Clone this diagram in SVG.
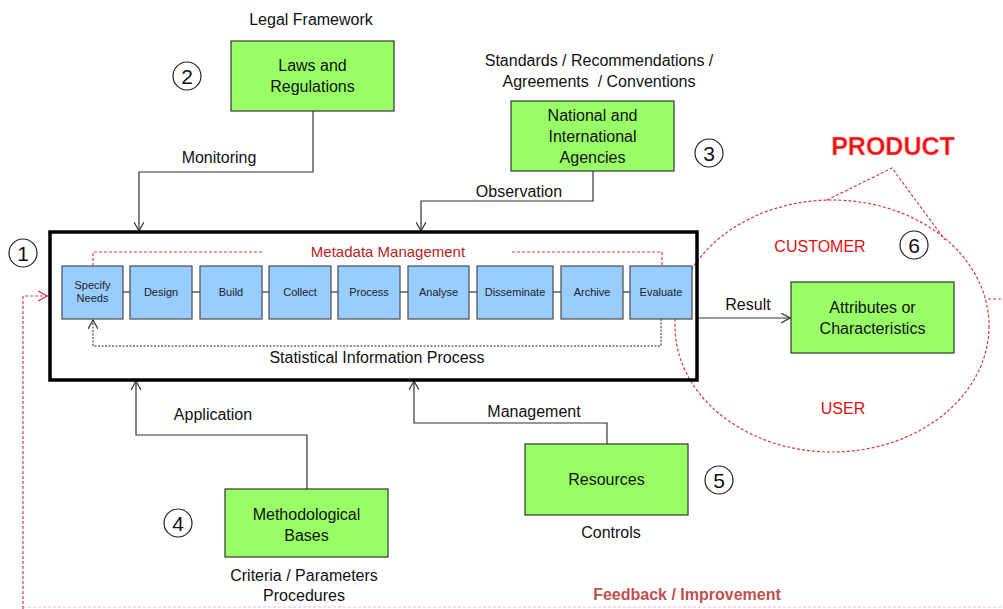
<svg xmlns="http://www.w3.org/2000/svg" width="1003" height="609" viewBox="0 0 1003 609">
<style>
text{font-family:"Liberation Sans",Arial,sans-serif;fill:#111;}
.g{fill:#99ff66;stroke:#333;stroke-width:1.2;}
.b{fill:#99ccff;stroke:#4a4a4a;stroke-width:1.2;}
.t16{font-size:16px;text-anchor:middle;}
.t11{font-size:11px;text-anchor:middle;fill:#222;}
.num{fill:#fff;stroke:#222;stroke-width:1.2;}
.nt{font-size:21px;text-anchor:middle;}
.ln{fill:none;stroke:#333;stroke-width:1.2;}
.red{fill:none;stroke:#d9364a;stroke-width:1.2;stroke-dasharray:3 2;}
.rt{fill:#e01010;font-size:16px;text-anchor:middle;}
</style>
<defs>
<marker id="ah" viewBox="0 0 10 10" refX="9" refY="5" markerWidth="10" markerHeight="10" markerUnits="userSpaceOnUse" orient="auto"><path d="M0,0 L9,5 L0,10" fill="none" stroke="#333" stroke-width="1.2"/></marker>
<marker id="ahr" viewBox="0 0 10 10" refX="9" refY="5" markerWidth="10" markerHeight="10" markerUnits="userSpaceOnUse" orient="auto"><path d="M0,0 L9,5 L0,10" fill="none" stroke="#d9364a" stroke-width="1.2"/></marker>
</defs>
<rect width="1003" height="609" fill="#fff"/>

<g id="connectors">
<polyline class="ln" points="313,111 313,172 139,172 139,231" marker-end="url(#ah)"/>
<polyline class="ln" points="593,171 593,201 421,201 421,231" marker-end="url(#ah)"/>
<polyline class="ln" points="307,489 307,435 136,435 136,381" marker-end="url(#ah)"/>
<polyline class="ln" points="607,444 607,423 414,423 414,381" marker-end="url(#ah)"/>
<line class="ln" x1="698" y1="318" x2="790" y2="318" marker-end="url(#ah)"/>
<polyline class="red" points="23,609 23,296 47,296" marker-end="url(#ahr)"/>
<line class="red" x1="23" y1="607" x2="1003" y2="607" opacity="0.35"/>
<line class="red" x1="988" y1="299" x2="1003" y2="299"/>
</g>

<g id="main-process-fill">
<rect x="50" y="232" width="647" height="148" fill="#fff"/>
</g>

<g id="product-callout">
<ellipse class="red" cx="832" cy="326" rx="157" ry="126"/>
<polyline class="red" points="827,200 892,168 945,240"/>
<text x="893" y="155" font-size="25" font-weight="bold" text-anchor="middle" style="fill:#f01010;stroke:#f6b0b0;stroke-width:0.5;">PRODUCT</text>
<text class="rt" x="820" y="252">CUSTOMER</text>
<text class="rt" x="843" y="414">USER</text>
</g>

<g id="main-process">
<rect x="50" y="232" width="647" height="148" fill="none" stroke="#000" stroke-width="3.5"/>
<polyline class="red" points="93,266 93,252 263,252"/>
<polyline class="red" points="512,252 662,252 662,266"/>
<text x="388" y="257" font-size="15" text-anchor="middle" style="fill:#b81c1c;">Metadata Management</text>
<g class="ln">
<line x1="123" y1="292" x2="130" y2="292"/><line x1="192" y1="292" x2="200" y2="292"/>
<line x1="262" y1="292" x2="269" y2="292"/><line x1="331" y1="292" x2="338" y2="292"/>
<line x1="400" y1="292" x2="408" y2="292"/><line x1="469" y1="292" x2="477" y2="292"/>
<line x1="553" y1="292" x2="561" y2="292"/><line x1="623" y1="292" x2="630" y2="292"/>
</g>
<polyline points="661,319 661,346 93,346 93,320" fill="none" stroke="#222" stroke-width="1" stroke-dasharray="2 1.5" marker-end="url(#ah)"/>
<text class="t16" x="377" y="363">Statistical Information Process</text>
</g>

<g id="step-specify"><rect class="b" x="62" y="266" width="61" height="53"/><text class="t11" x="92.5" y="289">Specify</text><text class="t11" x="92.5" y="302">Needs</text></g>
<g id="step-design"><rect class="b" x="130" y="266" width="62" height="53"/><text class="t11" x="161" y="296">Design</text></g>
<g id="step-build"><rect class="b" x="200" y="266" width="62" height="53"/><text class="t11" x="231" y="296">Build</text></g>
<g id="step-collect"><rect class="b" x="269" y="266" width="62" height="53"/><text class="t11" x="300" y="296">Collect</text></g>
<g id="step-process"><rect class="b" x="338" y="266" width="62" height="53"/><text class="t11" x="369" y="296">Process</text></g>
<g id="step-analyse"><rect class="b" x="408" y="266" width="61" height="53"/><text class="t11" x="438.5" y="296">Analyse</text></g>
<g id="step-disseminate"><rect class="b" x="477" y="266" width="76" height="53"/><text class="t11" x="515" y="296">Disseminate</text></g>
<g id="step-archive"><rect class="b" x="561" y="266" width="62" height="53"/><text class="t11" x="592" y="296">Archive</text></g>
<g id="step-evaluate"><rect class="b" x="630" y="266" width="62" height="53"/><text class="t11" x="661" y="296">Evaluate</text></g>

<g id="laws">
<text class="t16" x="311" y="25">Legal Framework</text>
<rect class="g" x="231" y="41" width="163" height="70"/>
<text class="t16" x="312.5" y="71">Laws and</text>
<text class="t16" x="312.5" y="92">Regulations</text>
<text class="t16" x="219" y="163">Monitoring</text>
<circle class="num" cx="187" cy="76" r="14"/><text class="nt" x="187" y="84">2</text>
</g>

<g id="agencies">
<text class="t16" x="599" y="66">Standards / Recommendations /</text>
<text class="t16" x="599" y="87">Agreements&#160; / Conventions</text>
<rect class="g" x="511" y="101" width="163" height="70"/>
<text class="t16" x="592.5" y="121">National and</text>
<text class="t16" x="592.5" y="142">International</text>
<text class="t16" x="592.5" y="163">Agencies</text>
<text class="t16" x="519" y="197">Observation</text>
<circle class="num" cx="709" cy="153" r="14"/><text class="nt" x="709" y="161">3</text>
</g>

<g id="methodological">
<rect class="g" x="225" y="489" width="163" height="68"/>
<text class="t16" x="306.5" y="520">Methodological</text>
<text class="t16" x="306.5" y="541">Bases</text>
<text class="t16" x="213" y="420">Application</text>
<text class="t16" x="304" y="581">Criteria / Parameters</text>
<text class="t16" x="304" y="601">Procedures</text>
<circle class="num" cx="178" cy="523" r="14"/><text class="nt" x="178" y="531">4</text>
</g>

<g id="resources">
<rect class="g" x="525" y="444" width="163" height="71"/>
<text class="t16" x="606.5" y="485">Resources</text>
<text class="t16" x="534" y="417">Management</text>
<text class="t16" x="611" y="538">Controls</text>
<circle class="num" cx="719" cy="480" r="14"/><text class="nt" x="719" y="488">5</text>
</g>

<g id="attributes">
<rect class="g" x="791" y="282" width="163" height="71"/>
<text class="t16" x="872.5" y="313">Attributes or</text>
<text class="t16" x="872.5" y="334">Characteristics</text>
<text class="t16" x="748" y="310">Result</text>
<circle class="num" cx="914" cy="245" r="14"/><text class="nt" x="914" y="253">6</text>
</g>

<g id="marker-1">
<circle class="num" cx="23" cy="253" r="14"/><text class="nt" x="23" y="261">1</text>
</g>

<g id="feedback">
<text x="687" y="600" font-size="16" font-weight="bold" text-anchor="middle" style="fill:#c0504d;">Feedback / Improvement</text>
</g>
</svg>
